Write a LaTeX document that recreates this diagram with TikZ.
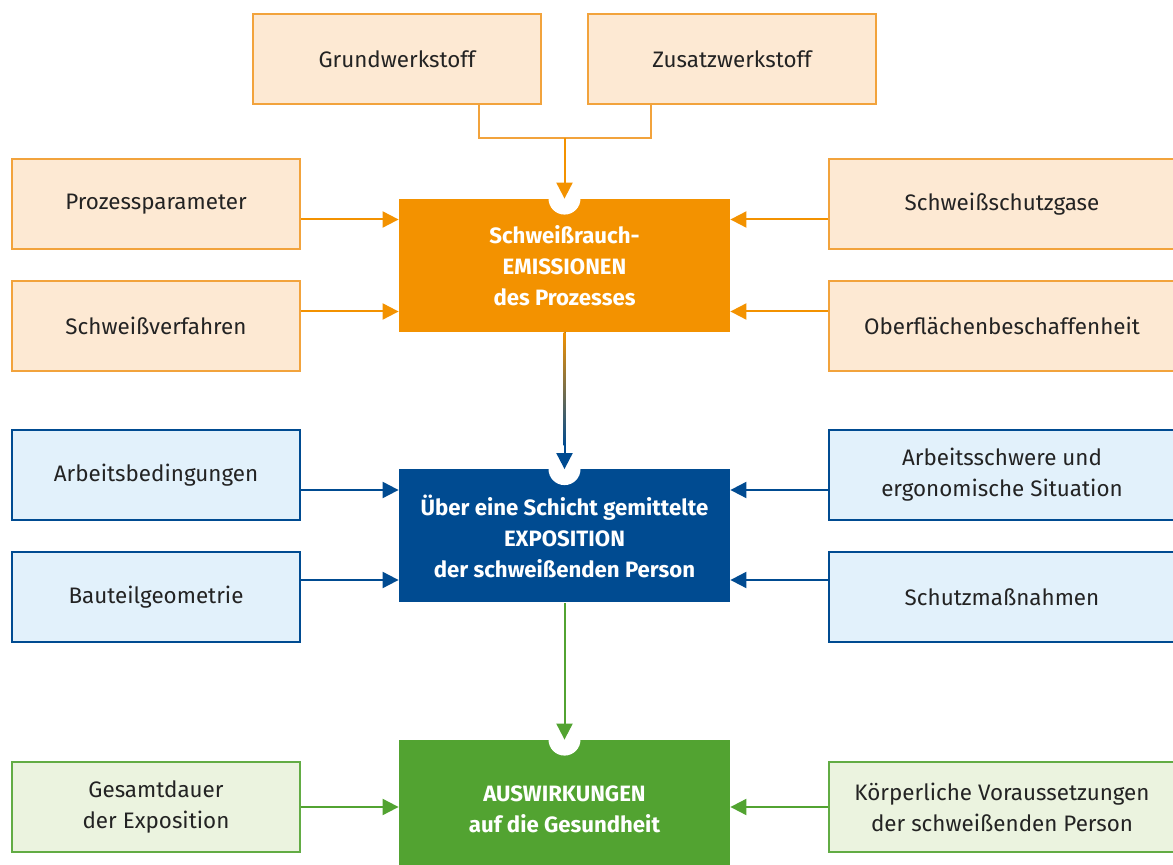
\documentclass[tikz,border=0pt]{standalone}
\usepackage{fontspec}
\setmainfont{Fira Sans}
\usetikzlibrary{arrows.meta,calc}

\definecolor{emisorange}{RGB}{243,146,0}
\definecolor{emislight}{RGB}{253,233,211}
\definecolor{emisline}{RGB}{242,163,60}
\definecolor{expoblue}{RGB}{0,75,145}
\definecolor{expolight}{RGB}{226,241,251}
\definecolor{auswgreen}{RGB}{82,163,49}
\definecolor{auswlight}{RGB}{235,243,223}
\definecolor{auswline}{RGB}{98,172,68}
\definecolor{textgray}{RGB}{35,35,35}

\tikzset{
  factor/.style={draw, line width=1pt, minimum width=144pt, minimum height=45pt,
    inner sep=0pt, align=center, text=textgray, font=\fontsize{11.2}{15.5}\selectfont},
  widefactor/.style={factor, minimum width=173pt},
  hub/.style={minimum width=165.5pt, minimum height=66.5pt, inner sep=0pt,
    align=center, text=white, font=\fontsize{11.1}{15.5}\selectfont\bfseries},
  arr/.style={line width=1pt, -{Triangle[length=8pt,width=8pt]}},
}

\begin{document}
\begin{tikzpicture}[x=0.5pt,y=-0.5pt]
\useasboundingbox (0,0) rectangle (1173,865);
\clip (0,0) rectangle (1173,865);

% emission
\node (grund) [factor, fill=emislight, draw=emisline] at (397,59) {Grundwerkstoff};
\node (zusatz) [factor, fill=emislight, draw=emisline] at (732,59) {Zusatzwerkstoff};
\node (proz) [factor, fill=emislight, draw=emisline] at (156,204) {Prozessparameter};
\node (verf) [factor, fill=emislight, draw=emisline] at (156,326) {Schweißverfahren};
\node (gase) [widefactor, fill=emislight, draw=emisline] at (1002,204) {Schweißschutzgase};
\node (oberfl) [widefactor, fill=emislight, draw=emisline] at (1002,326) {Oberflächenbeschaffenheit};
\node (emis) [hub, fill=emisorange] at (564.5,265.5) {Schweißrauch-\\EMISSIONEN\\des Prozesses};

% exposure
\node (arbbed) [factor, fill=expolight, draw=expoblue] at (156,475) {Arbeitsbedingungen};
\node (bauteil) [factor, fill=expolight, draw=expoblue] at (156,597) {Bauteilgeometrie};
\node (arbschw) [widefactor, fill=expolight, draw=expoblue] at (1002,475) {Arbeitsschwere und\\ergonomische Situation};
\node (schutz) [widefactor, fill=expolight, draw=expoblue] at (1002,597) {Schutzmaßnahmen};
\node (expo) [hub, fill=expoblue] at (564.5,536) {Über eine Schicht gemittelte\\EXPOSITION\\der schweißenden Person};

% effects
\node (gesamt) [factor, fill=auswlight, draw=auswline] at (156,807) {Gesamtdauer\\der Exposition};
\node (koerper) [widefactor, fill=auswlight, draw=auswline] at (1002,807) {Körperliche Voraussetzungen\\der schweißenden Person};
\node (ausw) [hub, fill=auswgreen, minimum height=69pt] at (564.5,809) {AUSWIRKUNGEN\\auf die Gesundheit};

% notches
\foreach \n in {emis,expo,ausw}
  \fill[white] (\n.north) circle (8pt);

\coordinate (emisL1) at ($(emis.west)+(0,23pt)$);
\coordinate (emisL2) at ($(emis.west)+(0,-23pt)$);
\coordinate (emisR1) at ($(emis.east)+(0,23pt)$);
\coordinate (emisR2) at ($(emis.east)+(0,-23pt)$);
\coordinate (expoL1) at ($(expo.west)+(0,23pt)$);
\coordinate (expoL2) at ($(expo.west)+(0,-22pt)$);
\coordinate (expoR1) at ($(expo.east)+(0,23pt)$);
\coordinate (expoR2) at ($(expo.east)+(0,-22pt)$);
\coordinate (join) at (564.5,138);
\coordinate (joinL) at (479,138);
\coordinate (joinR) at (651,138);

\draw[emisline, line width=1pt] (grund.south -| joinL) |- (joinR) -- (zusatz.south -| joinR);
\draw[arr, emisorange] (join) -- (emis.north);
\draw[arr, emisorange] (proz.east |- emisL1) -- (emisL1);
\draw[arr, emisorange] (verf.east |- emisL2) -- (emisL2);
\draw[arr, emisorange] (gase.west |- emisR1) -- (emisR1);
\draw[arr, emisorange] (oberfl.west |- emisR2) -- (emisR2);

\draw[arr, expoblue] (emis.south) -- (expo.north);
\shade[top color=emisorange, bottom color=expoblue]
  ($(emis.south)+(-0.5pt,0)$) rectangle ($(expo.north)+(0.5pt,12pt)$);
\draw[arr, expoblue] (arbbed.east |- expoL1) -- (expoL1);
\draw[arr, expoblue] (bauteil.east |- expoL2) -- (expoL2);
\draw[arr, expoblue] (arbschw.west |- expoR1) -- (expoR1);
\draw[arr, expoblue] (schutz.west |- expoR2) -- (expoR2);

\draw[arr, auswgreen] (expo.south) -- (ausw.north);
\draw[arr, auswgreen] (gesamt.east) -- (gesamt.east -| ausw.west);
\draw[arr, auswgreen] (koerper.west) -- (koerper.west -| ausw.east);
\end{tikzpicture}
\end{document}
